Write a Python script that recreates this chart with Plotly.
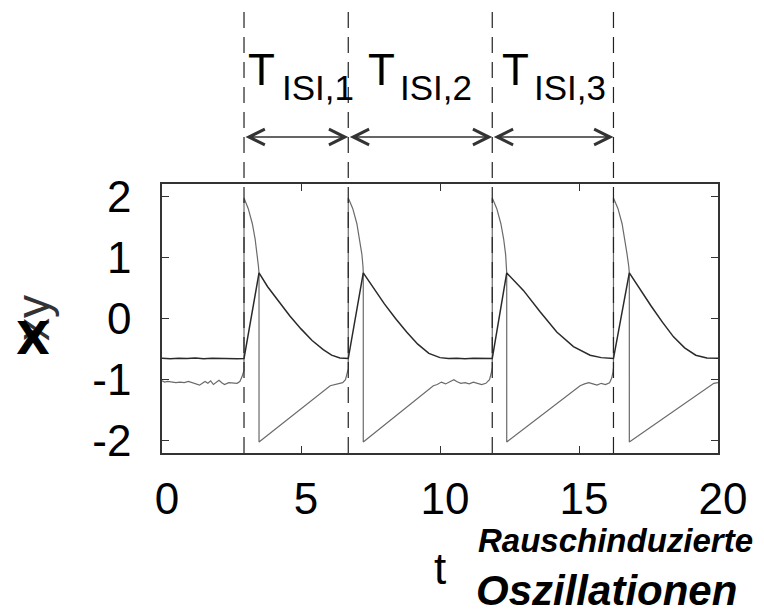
import plotly.graph_objects as go

# ---------------- data ----------------
spike_times = [2.95, 6.70, 11.88, 16.24]
isi_labels = ["ISI,1", "ISI,2", "ISI,3"]
x_ticks = [0, 5, 10, 15, 20]
y_ticks = [-2, -1, 0, 1, 2]

# dark trace
dark_t = [0, 0.3, 0.6, 0.9, 1.2, 1.5, 1.8, 2.1, 2.4, 2.7, 2.95,
          3.49, 3.8, 4.2, 4.6, 5.0, 5.4, 5.8, 6.1, 6.4, 6.70,
          7.24, 7.6, 8.0, 8.4, 8.8, 9.2, 9.6, 10.0, 10.3, 10.6, 10.9, 11.2, 11.5, 11.88,
          12.40, 13.0, 13.6, 14.2, 14.8, 15.4, 15.8, 16.0, 16.24,
          16.81, 17.2, 17.6, 18.0, 18.4, 18.8, 19.2, 19.6, 20.0]
dark_v = [-0.65, -0.66, -0.65, -0.655, -0.645, -0.66, -0.65, -0.655, -0.65, -0.66, -0.655,
          0.745, 0.52, 0.27, 0.04, -0.17, -0.36, -0.51, -0.60, -0.645, -0.655,
          0.745, 0.50, 0.24, 0.0, -0.22, -0.42, -0.57, -0.64, -0.655, -0.65, -0.66, -0.65, -0.655, -0.655,
          0.745, 0.46, 0.11, -0.22, -0.46, -0.60, -0.64, -0.65, -0.655,
          0.745, 0.47, 0.20, -0.06, -0.30, -0.48, -0.60, -0.645, -0.65]

# grey trace
grey_t = [0, 0.1, 0.2, 0.35, 0.5, 0.65, 0.8, 0.95, 1.1, 1.25, 1.35, 1.45, 1.55, 1.65, 1.75,
          1.85, 1.95, 2.05, 2.15, 2.25, 2.4, 2.55, 2.7, 2.8, 2.88, 2.95,
          2.95, 3.1, 3.25, 3.35, 3.43, 3.47, 3.49, 3.49,
          6.05, 6.2, 6.35, 6.5, 6.6, 6.66, 6.70,
          6.70, 6.86, 7.01, 7.11, 7.19, 7.23, 7.24, 7.24,
          9.76, 9.9, 10.05, 10.2, 10.35, 10.5, 10.6, 10.75, 10.9, 11.05, 11.2, 11.35, 11.5,
          11.65, 11.78, 11.84, 11.88,
          11.88, 12.04, 12.19, 12.29, 12.36, 12.39, 12.40, 12.40,
          15.04, 15.2, 15.35, 15.5, 15.65, 15.8, 15.95, 16.1, 16.18, 16.22, 16.24,
          16.24, 16.4, 16.55, 16.65, 16.73, 16.79, 16.81, 16.81,
          19.7, 19.85, 20.0]
grey_v = [-1.02, -1.04, -1.03, -1.04, -1.05, -1.04, -1.05, -1.03, -1.05, -1.07, -1.09, -1.06, -1.03, -1.06, -1.02,
          -1.08, -1.05, -1.01, -1.05, -1.08, -1.05, -1.06, -1.06, -1.03, -0.95, -0.85,
          1.97, 1.80, 1.55, 1.30, 1.05, 0.85, 0.745, -2.02,
          -1.10, -1.08, -1.06, -1.05, -1.00, -0.90, -0.82,
          1.97, 1.80, 1.55, 1.30, 1.05, 0.85, 0.745, -2.02,
          -1.10, -1.08, -1.04, -1.07, -1.03, -1.00, -1.03, -1.06, -1.05, -1.07, -1.04, -1.06, -1.08,
          -1.06, -1.00, -0.90, -0.80,
          1.97, 1.80, 1.55, 1.30, 1.05, 0.85, 0.745, -2.02,
          -1.10, -1.07, -1.05, -1.07, -1.09, -1.06, -1.08, -1.05, -0.97, -0.88, -0.80,
          1.97, 1.80, 1.55, 1.30, 1.05, 0.85, 0.745, -2.02,
          -1.10, -1.06, -1.05]

# ---------------- layout helpers ----------------
W, H = 764, 615
ML, MR, MT, MB = 162, 46, 184, 162
PW, PH = W - ML - MR, H - MT - MB


def px(x):
    return (x - ML) / PW


def py(y):
    return (H - MB - y) / PH


FONT = "Liberation Sans"


def label(x, y, text, size, family=FONT, color="black", **kw):
    fig.add_annotation(x=px(x), y=py(y), xref="paper", yref="paper", text=text,
                       showarrow=False, xanchor=kw.pop("xanchor", "center"),
                       yanchor="middle", font=dict(family=family, size=size, color=color),
                       **kw)


fig = go.Figure()
fig.add_trace(go.Scatter(x=grey_t, y=grey_v, mode="lines",
                         line=dict(color="#6a6a6a", width=1.2), hoverinfo="skip"))
fig.add_trace(go.Scatter(x=dark_t, y=dark_v, mode="lines",
                         line=dict(color="#2a2a2a", width=1.5), hoverinfo="skip"))

# dashed spike markers
for s in spike_times:
    fig.add_shape(type="line", xref="x", yref="paper", x0=s, x1=s,
                  y0=0, y1=py(10), line=dict(color="#222", width=1.2, dash="16px,9px"))

# double arrows between spikes
arrow_y = py(137)
for a, b in zip(spike_times[:-1], spike_times[1:]):
    fig.add_annotation(x=b, y=arrow_y, xref="x", yref="paper",
                       ax=a, ay=0, axref="x", ayref="pixel", text="",
                       showarrow=True, arrowside="end+start", arrowhead=5,
                       arrowsize=2.4, arrowwidth=1.3, arrowcolor="#333")

# T_ISI labels
t_centers = [261.5, 381.5, 515]
sub_left = [280, 398, 532]
for tc, sl, lab in zip(t_centers, sub_left, isi_labels):
    label(tc, 69, "T", 44)
    label(sl, 87, lab, 35, xanchor="left")

# axis titles
label(440, 568, "t", 44)
label(33, 318, "xy", 46, color="#333", textangle=-90)
label(33, 338, "<b>X</b>", 44, family="DejaVu Sans")

# handwritten note
label(615, 540, "<b><i>Rauschinduzierte</i></b>", 33)
label(606, 590, "<b><i>Oszillationen</i></b>", 42)

axis_common = dict(showline=True, linecolor="#333", linewidth=1.5, mirror="ticks",
                   ticks="inside", ticklen=7, tickwidth=1, tickcolor="#333",
                   showgrid=False, zeroline=False,
                   tickfont=dict(family=FONT, size=44, color="black"))
fig.update_xaxes(range=[0, 20], tickvals=x_ticks, ticktext=[str(v) for v in x_ticks],
                 ticklabelstandoff=6, ticklabelshift=5, **axis_common)
fig.update_yaxes(range=[-2.2, 2.2], tickvals=y_ticks, ticktext=[str(v) for v in y_ticks],
                 ticklabelstandoff=20, **axis_common)

fig.update_layout(width=W, height=H, margin=dict(l=ML, r=MR, t=MT, b=MB),
                  paper_bgcolor="white", plot_bgcolor="white", showlegend=False)

fig.write_html("out.html")
